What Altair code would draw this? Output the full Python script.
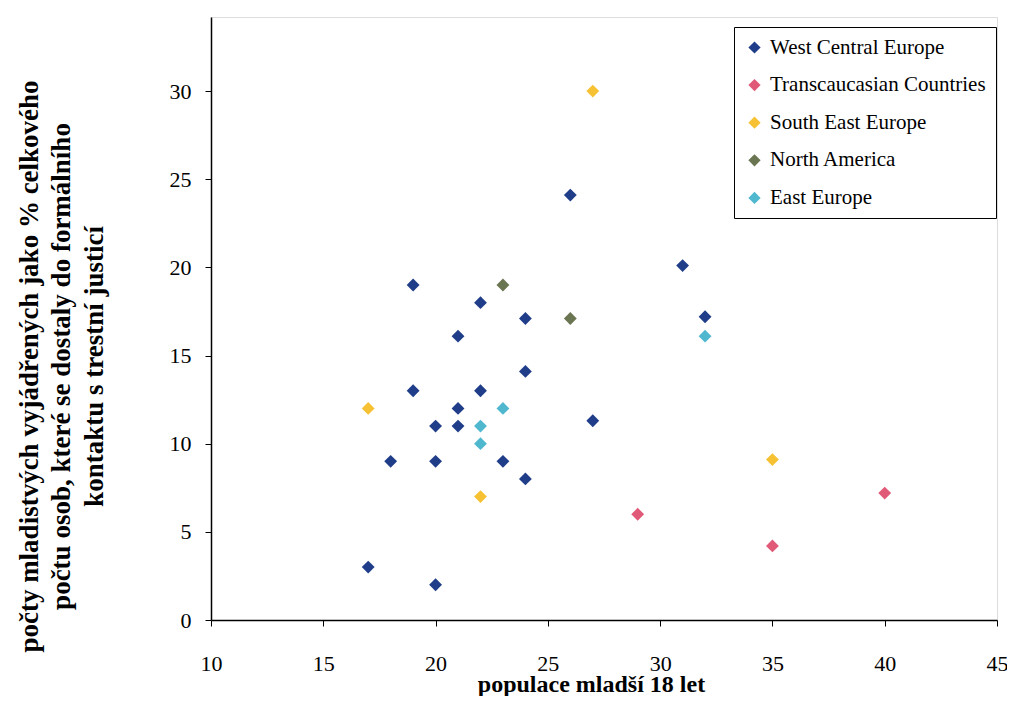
import altair as alt
import pandas as pd

series = ["West Central Europe", "Transcaucasian Countries", "South East Europe",
          "North America", "East Europe"]
colors = ["#1f3d88", "#e05a78", "#f6c234", "#6a7552", "#4fb8cf"]

wce_x = [17, 20, 18, 20, 20, 21, 21, 19, 22, 23, 24, 24, 24, 21, 22, 19, 26, 31, 32, 27]
wce_y = [3, 2, 9, 9, 11, 11, 12, 13, 13, 9, 8, 14.1, 17.1, 16.1, 18, 19, 24.1, 20.1, 17.2, 11.3]
tc_x = [29, 35, 40]
tc_y = [6, 4.2, 7.2]
see_x = [17, 27, 22, 35]
see_y = [12, 30, 7, 9.1]
na_x = [23, 26]
na_y = [19, 17.1]
ee_x = [23, 22, 22, 32]
ee_y = [12, 11, 10, 16.1]

x_ticks = [10, 15, 20, 25, 30, 35, 40, 45]
y_ticks = [0, 5, 10, 15, 20, 25, 30]

rows = []
for name, xs, ys in zip(series, [wce_x, tc_x, see_x, na_x, ee_x],
                        [wce_y, tc_y, see_y, na_y, ee_y]):
    for a, b in zip(xs, ys):
        rows.append({"x": a, "y": b, "region": name})
df = pd.DataFrame(rows)

FONT = "Liberation Serif"

chart = alt.Chart(df).mark_point(filled=True, shape="diamond", size=165, opacity=1).encode(
    x=alt.X("x:Q",
            scale=alt.Scale(domain=[10, 45], nice=False, zero=False),
            axis=alt.Axis(values=x_ticks, title="populace mladší 18 let",
                          grid=False, tickSize=6, labelPadding=27, labelFlush=False,
                          labelFontSize=22, labelFont=FONT, labelColor="black",
                          titleFont=FONT, titleFontSize=24, titleFontWeight="bold",
                          titleColor="black", titleX=380, titleY=71,
                          titleBaseline="alphabetic", titleAlign="center",
                          domainColor="black", domainWidth=1.5, tickColor="black")),
    y=alt.Y("y:Q",
            scale=alt.Scale(domain=[0, 34.2], nice=False),
            axis=alt.Axis(values=y_ticks,
                          title=["počty mladistvých vyjádřených jako % celkového",
                                 "počtu osob, které se dostaly do formálního",
                                 "kontaktu s trestní justicí"],
                          grid=False, tickSize=6, labelPadding=14,
                          labelFontSize=22, labelFont=FONT, labelColor="black",
                          titleFont=FONT, titleFontSize=27, titleFontWeight="bold",
                          titleColor="black", titleLineHeight=32.5,
                          titleX=-182, titleY=349, titleAngle=-90,
                          titleAlign="center", titleBaseline="middle",
                          domainColor="black", domainWidth=1.5, tickColor="black")),
    color=alt.Color("region:N",
                    scale=alt.Scale(domain=series, range=colors),
                    legend=alt.Legend(title=None, orient="none", legendX=523, legendY=10,
                                      strokeColor="black", fillColor="white",
                                      padding=10, symbolType="diamond", symbolSize=150,
                                      labelFont=FONT, labelFontSize=21, labelColor="black",
                                      labelOffset=5, rowPadding=15.6, labelLimit=400,
                                      symbolStrokeWidth=0)),
).properties(
    width=786, height=603,
    autosize=alt.AutoSizeParams(type="none"),
    padding={"left": 203, "top": 9, "right": 10, "bottom": 76},
).configure_view(stroke=None).configure(background="white", font=FONT)

chart.save("out.html", embed_options={"renderer": "svg", "actions": False})
